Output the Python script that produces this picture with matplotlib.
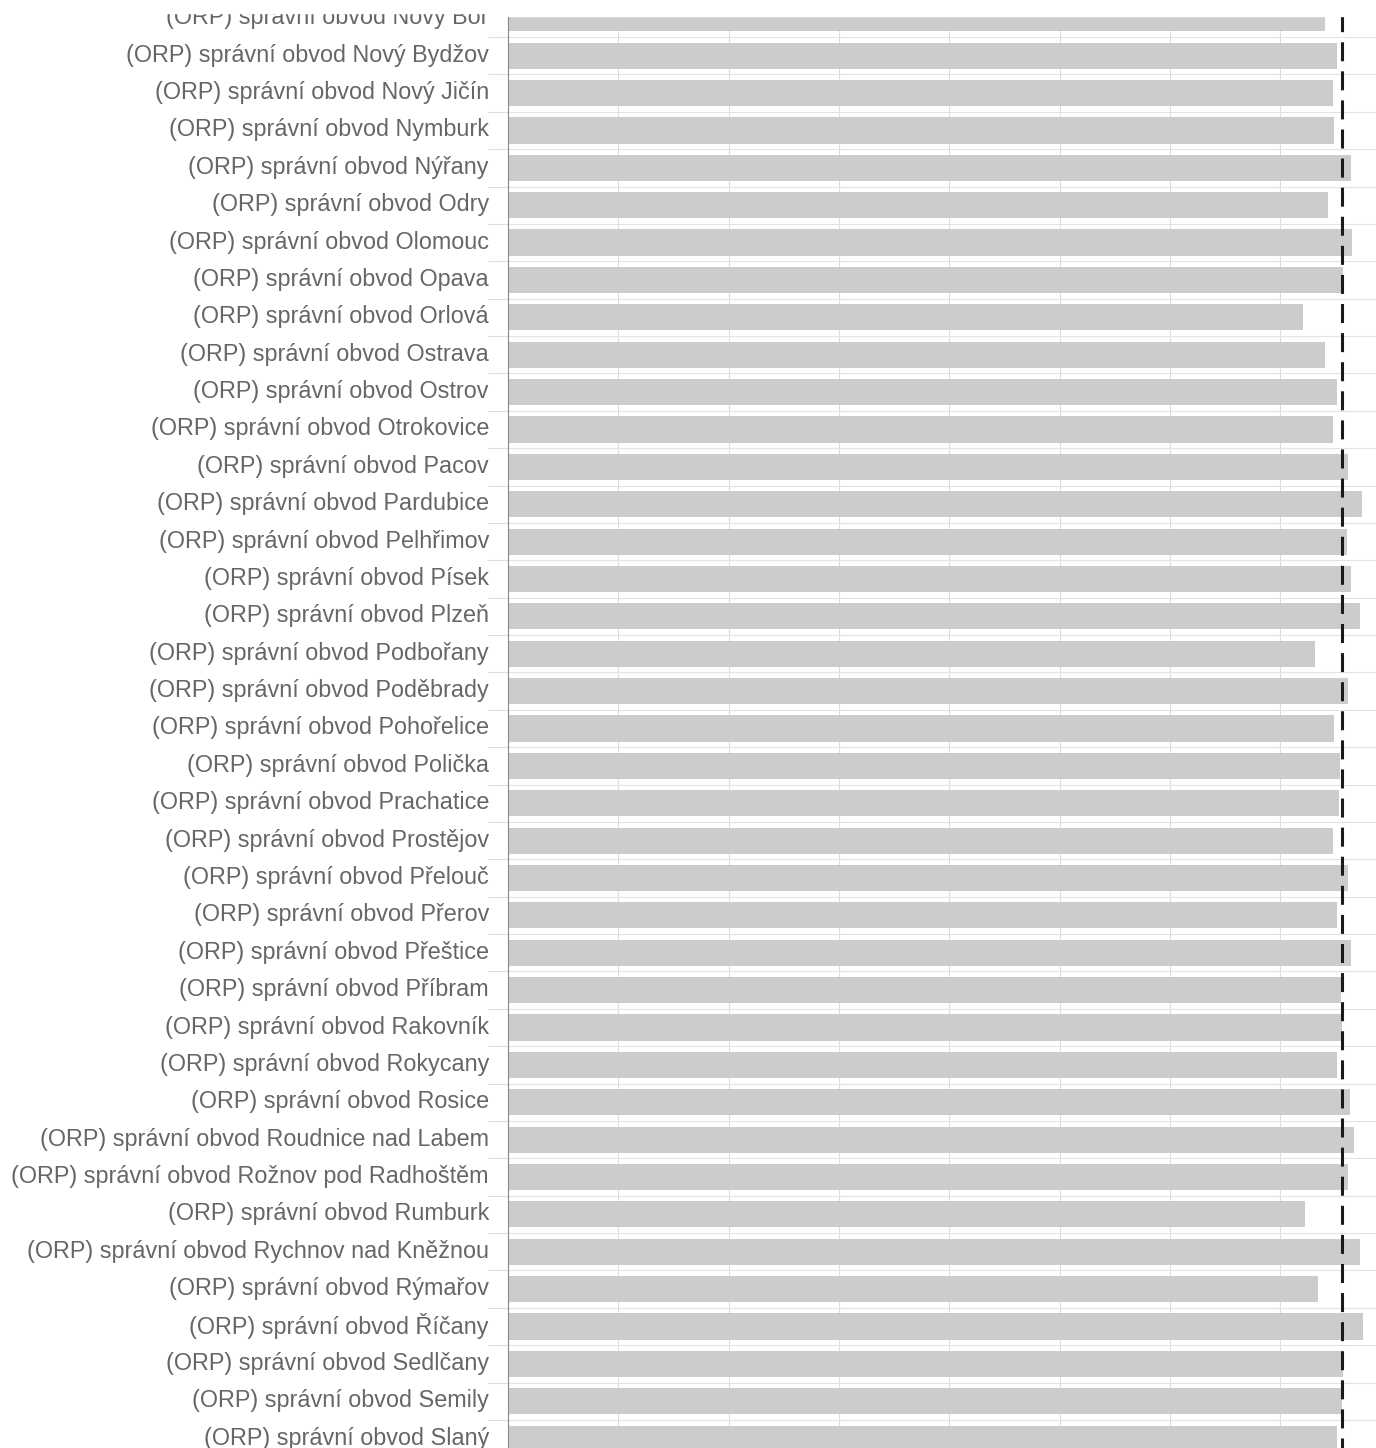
import matplotlib.pyplot as plt
from matplotlib.patches import Rectangle
import numpy as np

# Data (units: one vertical gridline = 10)
districts = [
    "Nový Bor", "Nový Bydžov", "Nový Jičín", "Nymburk", "Nýřany", "Odry",
    "Olomouc", "Opava", "Orlová", "Ostrava", "Ostrov", "Otrokovice", "Pacov",
    "Pardubice", "Pelhřimov", "Písek", "Plzeň", "Podbořany", "Poděbrady",
    "Pohořelice", "Polička", "Prachatice", "Prostějov", "Přelouč", "Přerov",
    "Přeštice", "Příbram", "Rakovník", "Rokycany", "Rosice",
    "Roudnice nad Labem", "Rožnov pod Radhoštěm", "Rumburk",
    "Rychnov nad Kněžnou", "Rýmařov", "Říčany", "Sedlčany", "Semily", "Slaný",
]
labels = ["(ORP) správní obvod " + d for d in districts]

values = [
    74.1, 75.2, 74.8, 74.9, 76.4, 74.3, 76.5, 75.7, 72.1, 74.1, 75.2, 74.8,
    76.2, 77.4, 76.1, 76.4, 77.2, 73.2, 76.2, 74.9, 75.4, 75.3, 74.8, 76.2,
    75.2, 76.4, 75.5, 75.6, 75.2, 76.3, 76.7, 76.2, 72.3, 77.2, 73.4, 77.5,
    75.7, 75.6, 75.2,
]
average = 75.6

W, H = 1376, 1448
fig = plt.figure(figsize=(W / 100, H / 100), dpi=100)
ax = fig.add_axes([508 / W, 0, 1 - 508 / W, 1])

y = np.arange(len(values))
ax.barh(y, values, height=0.7, color="#cccccc", linewidth=0, zorder=2)
ax.axvline(average, color="#1a1a1a", lw=2.2,
           linestyle=(2.95, (6.22, 3.3)), dash_capstyle="butt", zorder=3)

# x gridlines, no labels
ax.set_xticks(np.arange(0, 80, 10))
ax.tick_params(axis="x", length=0, labelbottom=False)
ax.grid(axis="x", color="#dddddd", lw=0.8, zorder=0)

# y labels near band centres (text sits a touch high), grid + ticks at band edges
ax.set_yticks(y - 0.08)
ax.set_yticklabels(labels, fontfamily="Liberation Sans", fontsize=16.8,
                   color="#666666")
ax.set_yticks(np.arange(-0.5, len(values) + 0.5, 1), minor=True)
ax.tick_params(axis="y", which="major", length=0, pad=13.7)
ax.tick_params(axis="y", which="minor", length=14.4, width=0.8,
               color="#dddddd")
ax.grid(axis="y", which="minor", color="#e3e3e3", lw=0.8, zorder=0)
ax.set_axisbelow(True)

ax.set_xlim(0, (W - 508) / 11.03)
ax.set_ylim(38.25, -0.49)

for s in ["top", "right", "bottom"]:
    ax.spines[s].set_visible(False)
ax.spines["left"].set_color("#888888")
ax.spines["left"].set_linewidth(0.8)

# the original is cut off at the top edge
fig.add_artist(Rectangle((0, 1 - 13 / H), 508 / W, 13 / H,
                         transform=fig.transFigure, color="white", zorder=10))
fig.add_artist(Rectangle((500 / W, 1 - 16 / H), 1, 16 / H,
                         transform=fig.transFigure, color="white", zorder=10))

fig.savefig("out.png", dpi=100)
